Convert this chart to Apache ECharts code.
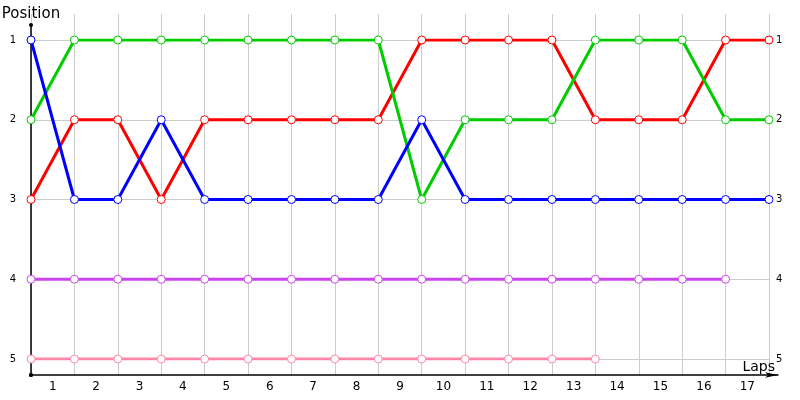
<!DOCTYPE html>
<html>
<head>
<meta charset="utf-8">
<script src="https://cdn.jsdelivr.net/npm/echarts@6/dist/echarts.min.js"></script>
<style>
  html, body { margin: 0; padding: 0; background: #fff; }
  #chart { width: 800px; height: 400px; }
</style>
</head>
<body>
<div id="chart"></div>
<script>
// lap numbers of each point (0 = start grid)
const laps = [0, 1, 2, 3, 4, 5, 6, 7, 8, 9, 10, 11, 12, 13, 14, 15, 16, 17]
// labels drawn between the lap lines
const lapLabels = ['1', '2', '3', '4', '5', '6', '7', '8', '9', '10', '11', '12', '13', '14', '15', '16', '17']

// position per lap for each driver
const bluePos = [1, 3, 3, 2, 3, 3, 3, 3, 3, 2, 3, 3, 3, 3, 3, 3, 3, 3]
const greenPos = [2, 1, 1, 1, 1, 1, 1, 1, 1, 3, 2, 2, 2, 1, 1, 1, 2, 2]
const redPos = [3, 2, 2, 3, 2, 2, 2, 2, 2, 1, 1, 1, 1, 2, 2, 2, 1, 1]
const purplePos = [4, 4, 4, 4, 4, 4, 4, 4, 4, 4, 4, 4, 4, 4, 4, 4, 4]
const pinkPos = [5, 5, 5, 5, 5, 5, 5, 5, 5, 5, 5, 5, 5, 5]

const drivers = [
  { name: 'Purple', data: purplePos, color: '#cc44ee' },
  { name: 'Pink', data: pinkPos, color: '#ff88aa' },
  { name: 'Red', data: redPos, color: '#ff0000' },
  { name: 'Green', data: greenPos, color: '#00cc00' },
  { name: 'Blue', data: bluePos, color: '#0000ff' }
]

const font = 'DejaVu Sans'
const chart = echarts.init(document.getElementById('chart'))

const option = {
  animation: false,
  textStyle: { fontFamily: font },
  grid: [
    // plot area: lap 0..17, position 1..5
    { left: 31, right: 31, top: 40, bottom: 41, outerBoundsMode: 'none' },
    // vertical lap lines and lap labels
    { left: 31, right: 31, top: 14, bottom: 25, outerBoundsMode: 'none' },
    // axis lines with arrow
    { left: 31, right: 22, top: 25, bottom: 25, outerBoundsMode: 'none' }
  ],
  xAxis: [
    {
      gridIndex: 0, type: 'value', min: 0, max: 17, interval: 1,
      axisLine: { show: false }, axisTick: { show: false },
      axisLabel: { show: false }, splitLine: { show: false }
    },
    {
      gridIndex: 1, type: 'value', min: 0, max: 17, interval: 1, position: 'top',
      axisLine: { show: false }, axisTick: { show: false },
      axisLabel: { show: false },
      splitLine: { show: true, lineStyle: { color: '#cccccc', width: 1 } }
    },
    {
      gridIndex: 1, type: 'category', data: lapLabels, boundaryGap: true, position: 'bottom',
      axisLine: { show: false }, axisTick: { show: false },
      axisLabel: { color: '#000', fontSize: 12, margin: 6, interval: 0 },
      splitLine: { show: false }
    },
    {
      gridIndex: 2, type: 'value', min: 0, max: 1,
      name: 'Laps', nameLocation: 'end', nameGap: -3,
      nameTextStyle: { color: '#000', fontSize: 14, align: 'right', verticalAlign: 'bottom', padding: [0, 0, 1, 0] },
      axisLine: { show: true, lineStyle: { color: '#000', width: 1.5 }, symbol: ['circle', 'arrow'], symbolSize: [4, 13] },
      axisTick: { show: false }, axisLabel: { show: false }, splitLine: { show: false }
    }
  ],
  yAxis: [
    {
      gridIndex: 0, type: 'value', min: 1, max: 5, interval: 1, inverse: true,
      axisLine: { show: false }, axisTick: { show: false },
      axisLabel: { color: '#000', fontSize: 10, margin: 15 },
      splitLine: { show: true, lineStyle: { color: '#cccccc', width: 1 } }
    },
    {
      gridIndex: 0, type: 'value', min: 1, max: 5, interval: 1, inverse: true,
      position: 'right',
      axisLine: { show: false }, axisTick: { show: false },
      axisLabel: { color: '#000', fontSize: 10, margin: 7 },
      splitLine: { show: false }
    },
    {
      gridIndex: 1, type: 'value', min: 0, max: 1, show: false
    },
    {
      gridIndex: 2, type: 'value', min: 0, max: 1,
      name: 'Position', nameLocation: 'end', nameGap: 3,
      nameTextStyle: { color: '#000', fontSize: 15 },
      axisLine: { show: true, lineStyle: { color: '#000', width: 1.5 }, symbol: ['circle', 'circle'], symbolSize: [4, 4] },
      axisTick: { show: false }, axisLabel: { show: false }, splitLine: { show: false }
    }
  ],
  series: drivers.map(d => ({
    name: d.name,
    type: 'line',
    xAxisIndex: 0,
    yAxisIndex: 0,
    data: d.data.map((p, i) => [laps[i], p]),
    symbol: 'circle',
    symbolSize: 8,
    showSymbol: true,
    lineStyle: { color: d.color, width: 3 },
    itemStyle: { color: '#fff', borderColor: d.color, borderWidth: 1 }
  }))
}

chart.setOption(option)
</script>
</body>
</html>
